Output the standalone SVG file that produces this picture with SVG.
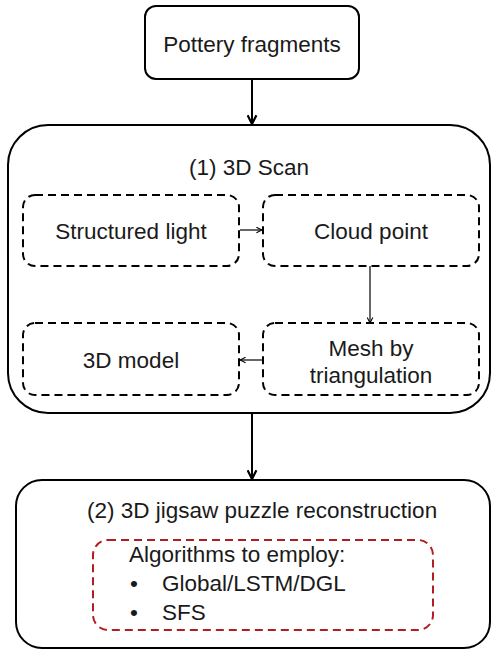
<svg xmlns="http://www.w3.org/2000/svg" width="492" height="650" viewBox="0 0 492 650">
<defs>
<marker id="ah" viewBox="0 0 10 10" refX="9" refY="5" markerWidth="11" markerHeight="11" markerUnits="userSpaceOnUse" orient="auto">
<path d="M1,1 L9,5 L1,9" fill="none" stroke="#000" stroke-width="2"/>
</marker>
<marker id="ahs" viewBox="0 0 10 10" refX="9" refY="5" markerWidth="7" markerHeight="7" markerUnits="userSpaceOnUse" orient="auto">
<path d="M1,1 L9,5 L1,9" fill="none" stroke="#000" stroke-width="1.5"/>
</marker>
</defs>
<style>
text{font-family:"Liberation Sans",Arial,sans-serif;font-size:22.5px;fill:#1a1a1a}
.solid{fill:#fff;stroke:#000;stroke-width:2}
.dash{fill:none;stroke:#000;stroke-width:2;stroke-dasharray:8 5}
.rdash{fill:none;stroke:#b01e23;stroke-width:2;stroke-dasharray:8 5}
.thick{stroke:#000;stroke-width:2;fill:none}
.thin{stroke:#000;stroke-width:1.2;fill:none}
</style>
<g id="connectors">
<line class="thick" x1="252" y1="79" x2="252" y2="124" marker-end="url(#ah)"/>
<line class="thick" x1="252" y1="413" x2="252" y2="479" marker-end="url(#ah)"/>
</g>
<g id="pottery">
<rect class="solid" x="145" y="6" width="214" height="73" rx="11"/>
<text x="252" y="52" text-anchor="middle">Pottery fragments</text>
</g>
<g id="scan">
<rect class="solid" x="8" y="125" width="482" height="288" rx="40"/>
<text x="249" y="175" text-anchor="middle">(1) 3D Scan</text>
</g>
<g id="structured">
<rect class="dash" x="23" y="195" width="216" height="71" rx="12"/>
<text x="131" y="239" text-anchor="middle">Structured light</text>
</g>
<g id="cloud">
<rect class="dash" x="263" y="195" width="216" height="71" rx="12"/>
<text x="371" y="239" text-anchor="middle">Cloud point</text>
</g>
<g id="mesh">
<rect class="dash" x="263" y="323" width="216" height="72" rx="12"/>
<text x="371" y="356" text-anchor="middle">Mesh by</text>
<text x="371" y="383" text-anchor="middle">triangulation</text>
</g>
<g id="model">
<rect class="dash" x="23" y="323" width="216" height="72" rx="12"/>
<text x="131" y="368" text-anchor="middle">3D model</text>
</g>
<g id="scan-connectors">
<line class="thin" x1="240" y1="230" x2="262" y2="230" marker-end="url(#ahs)"/>
<line class="thin" x1="370" y1="266" x2="370" y2="323" marker-end="url(#ahs)"/>
<line class="thin" x1="262" y1="360" x2="240" y2="360" marker-end="url(#ahs)"/>
</g>
<g id="reconstruction">
<rect class="solid" x="16" y="480" width="474" height="168" rx="26"/>
<text x="87" y="518">(2) 3D jigsaw puzzle reconstruction</text>
</g>
<g id="algorithms">
<rect class="rdash" x="93" y="540" width="340" height="90" rx="15"/>
<text x="129" y="562">Algorithms to employ:</text>
<text x="130" y="591">•</text>
<text x="162" y="591">Global/LSTM/DGL</text>
<text x="130" y="620">•</text>
<text x="162" y="620">SFS</text>
</g>
</svg>
